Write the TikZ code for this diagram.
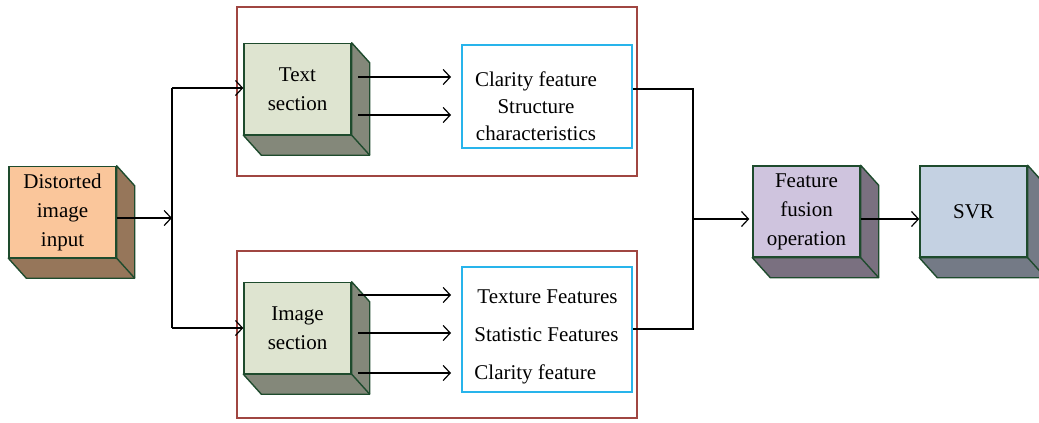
\documentclass[tikz,border=0pt]{standalone}
\usepackage{fontspec}
\setmainfont{Liberation Serif}
\usetikzlibrary{arrows.meta,positioning,calc}

\definecolor{edgegreen}{RGB}{30,75,45}
\definecolor{redframe}{RGB}{160,70,65}
\definecolor{cyanframe}{RGB}{40,180,235}
\definecolor{peach}{RGB}{250,198,155}
\definecolor{peachside}{RGB}{150,118,90}
\definecolor{sage}{RGB}{222,228,208}
\definecolor{sageside}{RGB}{132,136,122}
\definecolor{lilac}{RGB}{207,196,222}
\definecolor{lilacside}{RGB}{122,112,128}
\definecolor{paleblue}{RGB}{196,209,226}
\definecolor{paleblueside}{RGB}{116,122,134}

\tikzset{
  cube/.style={rectangle, draw=edgegreen, line width=0.7pt, minimum width=53.5pt,
    minimum height=45.5pt, inner sep=1pt, align=center, font=\fontsize{10.5}{14.5}\selectfont},
  arr/.style={-{Straight Barb[length=3.5pt,width=7.5pt]}, line width=0.6pt},
  link/.style={line width=0.6pt},
  frame/.style={draw=redframe, line width=0.8pt},
  featbox/.style={draw=cyanframe, line width=0.8pt},
  lbl/.style={font=\fontsize{10.5}{13.5}\selectfont, inner sep=0pt}
}

% depth faces of a cube node: #1 node name, #2 side colour
\newcommand{\cubedepth}[2]{
  \filldraw[fill=#2, draw=edgegreen, line width=0.7pt, line join=round]
    (#1.north east) -- ++(9pt,-10pt) -- ($(#1.south east)+(9pt,-10pt)$)
    -- ($(#1.south west)+(9pt,-10pt)$) -- (#1.south west) -- (#1.south east) -- cycle;
  \draw[edgegreen, line width=0.7pt] (#1.south east) -- ++(9pt,-10pt);
}

\begin{document}
\begin{tikzpicture}[x=0.5pt, y=-0.5pt]
	\useasboundingbox (0,0) rectangle (1039,423);

	% frames
	\draw[frame] (237,7) rectangle (637,176);
	\draw[frame] (237,251) rectangle (637,418);
	\node[featbox, minimum width=85pt, minimum height=51.5pt, inner sep=0pt] (clar) at (547,96.5) {};
	\node[featbox, minimum width=85pt, minimum height=62.5pt, inner sep=0pt] (tex) at (547,329.5) {};

	% cubes
	\node[cube, fill=peach] (dist) at (62.5,212) {Distorted\\image\\input};
	\cubedepth{dist}{peachside}
	\node[cube, fill=sage] (txt) at (297.5,89) {Text\\section};
	\cubedepth{txt}{sageside}
	\node[cube, fill=sage] (img) at (297.5,328) {Image\\section};
	\cubedepth{img}{sageside}
	\node[cube, fill=lilac] (fuse) at (806.5,211.5) {Feature\\fusion\\operation};
	\cubedepth{fuse}{lilacside}
	\node[cube, fill=paleblue] (svr) at (973.5,211.5) {SVR};
	\cubedepth{svr}{paleblueside}

	% feature texts
	\node[lbl, align=center] (c1) at (536,106) {Clarity feature\\Structure\\characteristics};
	\node[lbl, anchor=west] (t1) at (477,297) {Texture Features};
	\node[lbl, anchor=west] (t2) at (474,335) {Statistic Features};
	\node[lbl, anchor=west] (t3) at (474,374) {Clarity feature};

	% split from input
	\coordinate (split) at (172,218);
	\coordinate (splittop) at (172,88);
	\coordinate (splitbot) at (172,328);
	\draw[arr] (dist.east |- split) -- (split);
	\draw[link] (splittop) -- (splitbot);
	\draw[arr] (splittop) -- (txt.west |- splittop);
	\draw[arr] (splitbot) -- (img.west |- splitbot);

	% section outputs
	\foreach \yy in {77,115}
		\draw[arr] (358,\yy) -- (451,\yy);
	\foreach \yy in {295,333,373}
		\draw[arr] (358,\yy) -- (451,\yy);

	% merge
	\coordinate (mergetop) at (693,89);
	\coordinate (mergebot) at (693,329);
	\coordinate (merge) at (693,219);
	\draw[link] (clar.east |- mergetop) -- (mergetop) -- (mergebot) -- (tex.east |- mergebot);
	\draw[arr] (merge) -- ($(fuse.west |- merge)+(-1.5pt,0)$);
	\draw[arr] (fuse.east |- merge) -- (svr.west |- merge);
\end{tikzpicture}
\end{document}
